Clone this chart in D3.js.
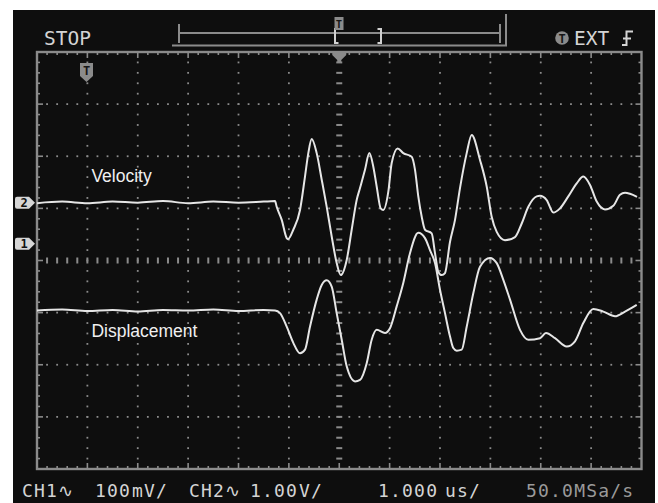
<!DOCTYPE html>
<html>
<head>
<meta charset="utf-8">
<script src="https://cdn.jsdelivr.net/npm/d3@7"></script>
<style>
  html, body { margin: 0; padding: 0; background: #ffffff; }
  svg { display: block; }
</style>
</head>
<body>
<svg id="scope" width="658" height="503"></svg>
<script>
// ---- acquisition settings ----
const timePerDiv = 1.0;          // µs / div
const ch1VoltsPerDiv = 100;      // mV / div  (displacement)
const ch2VoltsPerDiv = 1.0;      // V / div   (velocity)
const ch1Position = 0.32;        // ground marker, divisions above centre
const ch2Position = 1.11;
const horizDivs = 12;
const vertDivs = 8;

// ---- CH2 : velocity, [time µs, volts] ----
const velocityTrace = [
  [-6.00, -0.01], [-5.50, 0.02], [-5.00, -0.01], [-4.50, 0.02], [-4.00, 0.00],
  [-3.50, 0.03], [-3.00, -0.01], [-2.50, 0.02], [-2.00, 0.00], [-1.50, 0.02],
  [-1.275, 0.03], [-1.242, -0.08], [-1.142, -0.33], [-1.043, -0.68], [-1.017, -0.70],
  [-0.912, -0.52], [-0.779, -0.14], [-0.680, 0.50], [-0.614, 0.95], [-0.547, 1.22],
  [-0.448, 0.95], [-0.348, 0.44], [-0.249, -0.08], [-0.150, -0.65], [-0.051, -1.16],
  [0.029, -1.39], [0.148, -1.10], [0.247, -0.52], [0.346, 0.05], [0.412, 0.28],
  [0.511, 0.63], [0.597, 0.95], [0.676, 0.69], [0.743, 0.31], [0.823, -0.11],
  [0.874, -0.14], [0.974, 0.21], [1.041, 0.76], [1.160, 1.04], [1.271, 0.95],
  [1.438, 0.88], [1.504, 0.63], [1.569, 0.12], [1.637, -0.27], [1.702, -0.52],
  [1.835, -0.59], [1.901, -0.97], [1.966, -1.33], [2.034, -1.39], [2.099, -1.35],
  [2.199, -0.75], [2.298, -0.33], [2.397, 0.28], [2.530, 0.95], [2.629, 1.30],
  [2.794, 0.82], [2.927, 0.31], [3.026, -0.27], [3.126, -0.56], [3.290, -0.72],
  [3.489, -0.66], [3.622, -0.40], [3.753, -0.08], [3.920, 0.12], [3.985, 0.13],
  [4.118, 0.05], [4.249, -0.19], [4.382, -0.11], [4.547, 0.12], [4.714, 0.37],
  [4.845, 0.50], [4.978, 0.34], [5.111, 0.02], [5.275, -0.13], [5.440, -0.06],
  [5.573, 0.15], [5.673, 0.19], [5.772, 0.17], [5.911, 0.11]
];

// ---- CH1 : displacement, [time µs, millivolts] ----
const displacementTrace = [
  [-6.00, -128], [-5.50, -126], [-5.00, -129], [-4.50, -127], [-4.00, -130],
  [-3.50, -127], [-3.00, -128], [-2.50, -126], [-2.00, -129], [-1.50, -127],
  [-1.275, -128], [-1.176, -133], [-1.043, -159], [-0.912, -190], [-0.779, -210],
  [-0.680, -203], [-0.581, -159], [-0.448, -107], [-0.348, -79], [-0.249, -70],
  [-0.150, -82], [-0.051, -133], [0.049, -184], [0.148, -235], [0.313, -264],
  [0.412, -261], [0.545, -229], [0.644, -184], [0.743, -165], [0.908, -171],
  [1.007, -162], [1.140, -120], [1.271, -75], [1.404, -18], [1.569, 21],
  [1.702, 11], [1.801, -12], [1.901, -37], [2.000, -88], [2.099, -133],
  [2.199, -178], [2.264, -200], [2.332, -205], [2.431, -203], [2.530, -159],
  [2.661, -95], [2.794, -44], [2.993, -27], [3.126, -37], [3.257, -69],
  [3.390, -107], [3.588, -165], [3.753, -184], [3.985, -181], [4.104, -171],
  [4.283, -181], [4.515, -197], [4.680, -187], [4.845, -152], [5.043, -125],
  [5.242, -130], [5.474, -139], [5.673, -130], [5.905, -117]
];

// ---- trace annotations ----
const traceLabels = [
  { text: "Velocity", t: -4.92, ch: 2, value: 0.40 },
  { text: "Displacement", t: -4.92, ch: 1, value: -179 }
];

// ---- status line texts ----
const statusTop = { run: "STOP", trig: "EXT" };
const statusBottom = [
  { text: "CH1\u223F", x: 22 },
  { text: "100", x: 95 },
  { text: "mV/", x: 132 },
  { text: "CH2\u223F", x: 189 },
  { text: "1.00", x: 250 },
  { text: "V/", x: 299 },
  { text: "1.000", x: 378 },
  { text: "us/", x: 445 },
  { text: "50.0MSa/s", x: 526, dim: true }
];

// ---- layout ----
const W = 658, H = 503;
const plot = { left: 37, right: 641.5, top: 52, bottom: 469 };
const gridColor = "#8b8b8b";
const traceColor = "#e6e6e6";
const bg = "#0e0e0e";

const svg = d3.select("#scope");

svg.append("rect").attr("x", 13).attr("y", 10).attr("width", 642).attr("height", H - 10).attr("fill", bg);

const x = d3.scaleLinear()
  .domain([-horizDivs / 2 * timePerDiv, horizDivs / 2 * timePerDiv])
  .range([plot.left, plot.right]);
const yDiv = d3.scaleLinear().domain([-vertDivs / 2, vertDivs / 2]).range([plot.bottom, plot.top]);
const yCh1 = d3.scaleLinear()
  .domain([(-vertDivs / 2 - ch1Position) * ch1VoltsPerDiv, (vertDivs / 2 - ch1Position) * ch1VoltsPerDiv])
  .range([plot.bottom, plot.top]);
const yCh2 = d3.scaleLinear()
  .domain([(-vertDivs / 2 - ch2Position) * ch2VoltsPerDiv, (vertDivs / 2 - ch2Position) * ch2VoltsPerDiv])
  .range([plot.bottom, plot.top]);

// ---- graticule ----
const grid = svg.append("g");
const majorX = d3.range(-horizDivs / 2, horizDivs / 2 + 1).map(d => d * timePerDiv);
const majorY = d3.range(-vertDivs / 2, vertDivs / 2 + 1);
const minorX = d3.range(-horizDivs / 2 * 5, horizDivs / 2 * 5 + 1).map(d => d / 5 * timePerDiv);
const minorY = d3.range(-vertDivs / 2 * 5, vertDivs / 2 * 5 + 1).map(d => d / 5);

// dotted division lines
majorX.filter(t => t !== 0 && Math.abs(t) < horizDivs / 2).forEach(t => {
  grid.selectAll(null).data(minorY.slice(1, -1)).enter().append("rect")
    .attr("x", x(t) - 0.9).attr("y", d => yDiv(d) - 0.9)
    .attr("width", 1.8).attr("height", 1.8).attr("fill", gridColor);
});
majorY.filter(v => v !== 0 && Math.abs(v) < vertDivs / 2).forEach(v => {
  grid.selectAll(null).data(minorX.slice(1, -1)).enter().append("rect")
    .attr("x", d => x(d) - 0.9).attr("y", yDiv(v) - 0.9)
    .attr("width", 1.8).attr("height", 1.8).attr("fill", gridColor);
});
// centre cross with dash marks
grid.selectAll(null).data(minorX.slice(1, -1)).enter().append("rect")
  .attr("x", d => x(d) - 1).attr("y", yDiv(0) - 3)
  .attr("width", 2).attr("height", 6).attr("fill", gridColor);
grid.selectAll(null).data(minorY.slice(1, -1)).enter().append("rect")
  .attr("x", x(0) - 3).attr("y", d => yDiv(d) - 1)
  .attr("width", 6).attr("height", 2).attr("fill", gridColor);

// border ticks
const isMajor = (d, step) => Math.abs(Math.round(d / step) - d / step) < 1e-6;
minorX.slice(1, -1).forEach(t => {
  const len = isMajor(t, timePerDiv) ? 6 : 3;
  grid.append("line").attr("x1", x(t)).attr("x2", x(t)).attr("y1", plot.top).attr("y2", plot.top + len)
    .attr("stroke", gridColor).attr("stroke-width", 1.6);
  grid.append("line").attr("x1", x(t)).attr("x2", x(t)).attr("y1", plot.bottom).attr("y2", plot.bottom - len)
    .attr("stroke", gridColor).attr("stroke-width", 1.6);
});
minorY.slice(1, -1).forEach(v => {
  const len = isMajor(v, 1) ? 6 : 3;
  grid.append("line").attr("y1", yDiv(v)).attr("y2", yDiv(v)).attr("x1", plot.left).attr("x2", plot.left + len)
    .attr("stroke", gridColor).attr("stroke-width", 1.6);
  grid.append("line").attr("y1", yDiv(v)).attr("y2", yDiv(v)).attr("x1", plot.right).attr("x2", plot.right - len)
    .attr("stroke", gridColor).attr("stroke-width", 1.6);
});
grid.append("rect")
  .attr("x", plot.left).attr("y", plot.top)
  .attr("width", plot.right - plot.left).attr("height", plot.bottom - plot.top)
  .attr("fill", "none").attr("stroke", gridColor).attr("stroke-width", 2.4);

// trigger position marker on the top edge
svg.append("path")
  .attr("d", `M${x(0) - 7},${plot.top} H${x(0) + 7} V${plot.top + 3} L${x(0) + 2},${plot.top + 8} V${plot.top + 10} H${x(0) - 2} V${plot.top + 8} L${x(0) - 7},${plot.top + 3} Z`)
  .attr("fill", gridColor);

// ---- traces ----
const line2 = d3.line().x(d => x(d[0])).y(d => yCh2(d[1])).curve(d3.curveMonotoneX);
const line1 = d3.line().x(d => x(d[0])).y(d => yCh1(d[1])).curve(d3.curveMonotoneX);
svg.append("path").datum(velocityTrace).attr("d", line2)
  .attr("fill", "none").attr("stroke", traceColor).attr("stroke-width", 2).attr("stroke-linejoin", "round");
svg.append("path").datum(displacementTrace).attr("d", line1)
  .attr("fill", "none").attr("stroke", traceColor).attr("stroke-width", 2).attr("stroke-linejoin", "round");

// trace annotations
svg.selectAll(null).data(traceLabels).enter().append("text")
  .attr("x", d => x(d.t))
  .attr("y", d => (d.ch === 2 ? yCh2(d.value) : yCh1(d.value)))
  .attr("font-family", "'Liberation Sans', Arial, sans-serif")
  .attr("font-size", 17.5)
  .attr("fill", "#f0f0f0")
  .text(d => d.text);

// ---- channel ground markers ----
const markers = [
  { label: "2", y: yCh2(0) },
  { label: "1", y: yCh1(0) }
];
const mk = svg.selectAll(null).data(markers).enter().append("g");
mk.append("path")
  .attr("d", d => `M17,${d.y - 6} H29 L35,${d.y} L29,${d.y + 6} H17 Q15,${d.y + 6} 15,${d.y + 4} V${d.y - 4} Q15,${d.y - 6} 17,${d.y - 6} Z`)
  .attr("fill", "#d6d6d6");
mk.append("text")
  .attr("x", 24).attr("y", d => d.y + 4.5)
  .attr("text-anchor", "middle")
  .attr("font-family", "'DejaVu Sans Mono', monospace")
  .attr("font-weight", "bold")
  .attr("font-size", 12)
  .attr("fill", "#111")
  .text(d => d.label);

// trigger level marker
const tl = svg.append("g");
tl.append("path").attr("d", "M80,63 H93 V76 L86.5,82 L80,76 Z").attr("fill", gridColor);
tl.append("text").attr("x", 86.5).attr("y", 75).attr("text-anchor", "middle")
  .attr("font-family", "'DejaVu Sans Mono', monospace").attr("font-weight", "bold")
  .attr("font-size", 12).attr("fill", "#161616").text("T");

// ---- header ----
const mono = "'DejaVu Sans Mono', 'Liberation Mono', monospace";
const txtColor = "#d4d4d4";
svg.append("text").attr("x", 44).attr("y", 45).attr("font-family", mono).attr("font-size", 19.5)
  .attr("fill", txtColor).text(statusTop.run);

// memory position bar
const hdr = svg.append("g").attr("stroke", gridColor).attr("stroke-width", 2).attr("fill", "none");
hdr.append("path").attr("d", "M179,24 V43 M179,33 H500 M500,24 V43 M506,14 V46 M172,45.5 H507");
svg.append("path").attr("d", "M338.5,29 H335 V43 H338.5 M377.5,29 H381 V43 H377.5")
  .attr("stroke", "#d0d0d0").attr("stroke-width", 2).attr("fill", "none");
svg.append("rect").attr("x", 334.5).attr("y", 17).attr("width", 9).attr("height", 13).attr("fill", gridColor);
svg.append("text").attr("x", 339).attr("y", 28).attr("text-anchor", "middle").attr("font-family", mono)
  .attr("font-weight", "bold").attr("font-size", 10.5).attr("fill", "#161616").text("T");

// trigger source
svg.append("circle").attr("cx", 562).attr("cy", 38).attr("r", 6.8).attr("fill", gridColor);
svg.append("text").attr("x", 562).attr("y", 42.5).attr("text-anchor", "middle").attr("font-family", mono)
  .attr("font-weight", "bold").attr("font-size", 12).attr("fill", "#161616").text("T");
svg.append("text").attr("x", 574).attr("y", 45).attr("font-family", mono).attr("font-size", 19.5)
  .attr("fill", txtColor).text(statusTop.trig);
// rising edge symbol
svg.append("path").attr("d", "M622,45 H626.5 V31.5 H633 M623,38.5 H631")
  .attr("stroke", txtColor).attr("stroke-width", 2).attr("fill", "none");

// ---- bottom status line ----
svg.selectAll(null).data(statusBottom).enter().append("text")
  .attr("x", d => d.x).attr("y", 497)
  .attr("font-family", mono).attr("font-size", 18)
  .attr("letter-spacing", 1.2)
  .attr("fill", d => d.dim ? "#9a9a9a" : txtColor)
  .text(d => d.text);
</script>
</body>
</html>
